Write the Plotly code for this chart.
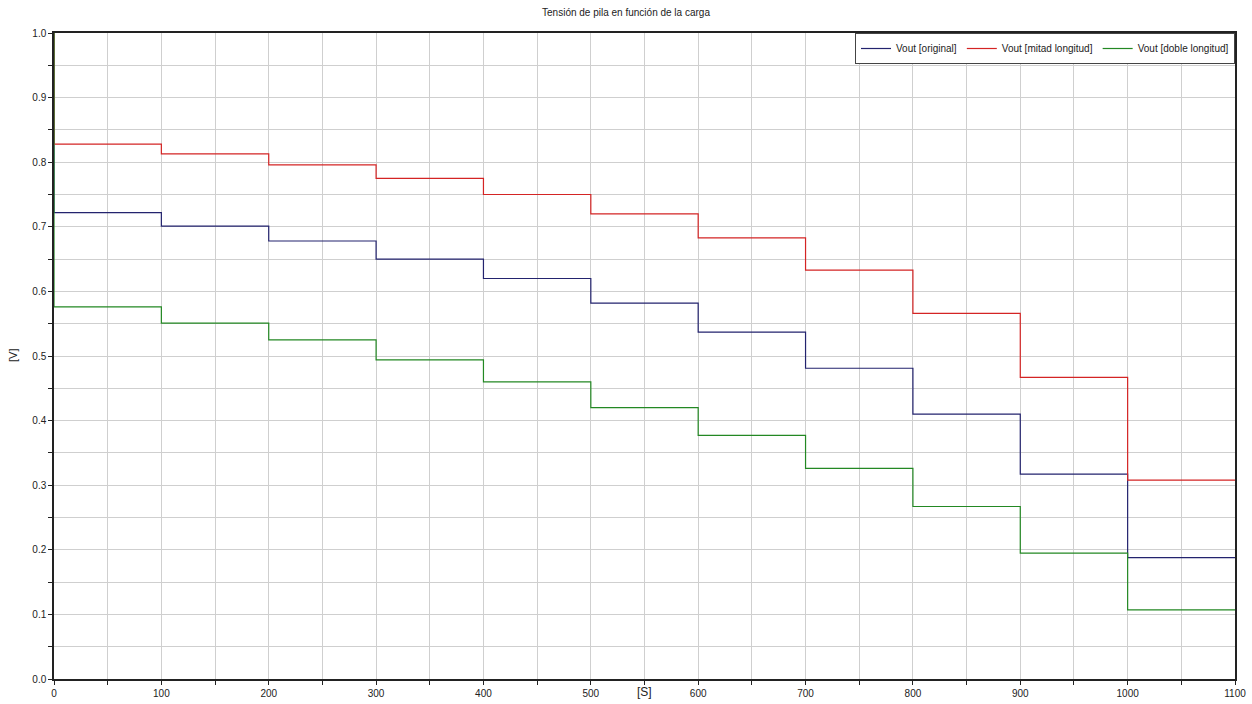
import plotly.graph_objects as go

# Time (s) at which each step starts
t = [0, 0, 100, 200, 300, 400, 500, 600, 700, 800, 900, 1000, 1100]

v_original = [1.0, 0.722, 0.701, 0.678, 0.650, 0.620, 0.582, 0.537, 0.481, 0.410, 0.317, 0.188, 0.188]
v_mitad = [1.0, 0.828, 0.813, 0.796, 0.775, 0.750, 0.720, 0.683, 0.633, 0.566, 0.467, 0.308, 0.308]
v_doble = [1.0, 0.576, 0.551, 0.525, 0.494, 0.460, 0.420, 0.377, 0.326, 0.267, 0.195, 0.107, 0.107]

names = ["Vout [original]", "Vout [mitad longitud]", "Vout [doble longitud]"]
colors = ["#23236e", "#d42424", "#238823"]

fig = go.Figure()
for name, vals, col in zip(names, [v_original, v_mitad, v_doble], colors):
    fig.add_trace(go.Scatter(x=t, y=vals, mode="lines", name=name,
                             line=dict(color=col, width=1.2, shape="hv")))

font = "Liberation Sans, Arial, sans-serif"
fig.update_layout(
    width=1252, height=704,
    paper_bgcolor="white", plot_bgcolor="white",
    margin=dict(l=54, r=17, t=33, b=25, autoexpand=False),
    font=dict(family=font, size=10, color="#222"),
    title=dict(text="Tensión de pila en función de la carga", x=0.5, xanchor="center",
               y=1 - 12 / 704, yanchor="middle", font=dict(size=10, color="#222")),
    showlegend=True,
    legend=dict(orientation="h", x=1, xanchor="right", y=1, yanchor="top",
                bgcolor="white", bordercolor="#444", borderwidth=1,
                font=dict(size=10, color="#222"), itemwidth=30,
                tracegroupgap=0),
)
fig.update_xaxes(range=[0, 1100], dtick=100, tick0=0, showgrid=True, gridcolor="#cfcfcf",
                 gridwidth=1, zeroline=False, showline=True, linecolor="#222", linewidth=1.5,
                 mirror=True, ticks="outside", ticklen=4, tickcolor="#222", automargin=False,
                 tickfont=dict(size=10, color="#222"),
                 minor=dict(dtick=50, showgrid=True, gridcolor="#cfcfcf", ticks="outside",
                            ticklen=4, tickcolor="#222"))
fig.update_yaxes(range=[0, 1.0], dtick=0.1, tick0=0, tickformat=".1f", showgrid=True,
                 gridcolor="#cfcfcf", gridwidth=1, zeroline=False, showline=True,
                 linecolor="#222", linewidth=1.5, mirror=True, ticks="outside", ticklen=4,
                 tickcolor="#222", tickfont=dict(size=10, color="#222"), automargin=False,
                 minor=dict(dtick=0.05, showgrid=True, gridcolor="#cfcfcf", ticks="outside",
                            ticklen=4, tickcolor="#222"))

fig.add_annotation(text="[S]", xref="paper", yref="paper", x=0.5, y=-(692 - 679) / 646,
                   xanchor="center", yanchor="middle", showarrow=False,
                   font=dict(size=12, color="#222"))
fig.add_annotation(text="[V]", xref="paper", yref="paper", x=(13 - 54) / 1181, y=0.5,
                   xanchor="center", yanchor="middle", showarrow=False, textangle=-90,
                   font=dict(size=11, color="#222"))

fig.write_html("out.html")
